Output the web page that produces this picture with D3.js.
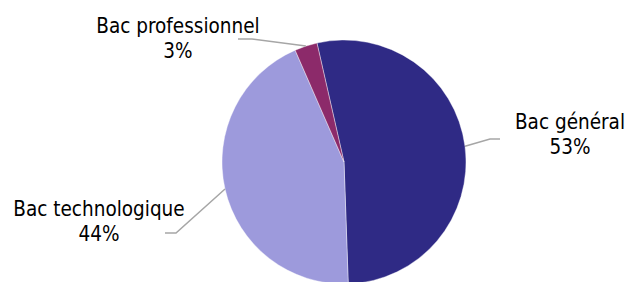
<!DOCTYPE html>
<html>
<head>
<meta charset="utf-8">
<script src="https://cdn.jsdelivr.net/npm/d3@7"></script>
<style>
  body { margin: 0; background: #fff; }
  text { font-family: "DejaVu Sans Condensed", "DejaVu Sans", sans-serif; font-size: 20.5px; fill: #000; }
</style>
</head>
<body>
<div id="chart"></div>
<script>
// data
var categories = ["Bac général", "Bac technologique", "Bac professionnel"];
var shares = [53, 44, 3];
var colors = ["#2F2A85", "#9D9ADC", "#8C2A6A"];

// label placement (text centre, elbow, line end)
var labelPos = [
    {x: 570, y: 129, elbow: [490, 139], end: [500, 139]},
    {x: 99,  y: 216, elbow: [176, 233], end: [165, 233]},
    {x: 178, y: 33,  elbow: [252, 39],  end: [238, 39]}
];

var width = 628, height = 282;
var cx = 344, cy = 162, radius = 122;
var start = -12.8 * Math.PI / 180;

var svg = d3.select("#chart").append("svg")
    .attr("width", width)
    .attr("height", height);

var g = svg.append("g")
    .attr("transform", "translate(" + cx + "," + cy + ")");

var pie = d3.pie()
    .sort(null)
    .startAngle(start)
    .endAngle(start + 2 * Math.PI);

var arc = d3.arc().innerRadius(0).outerRadius(radius);

var arcs = pie(shares);

g.selectAll("path.slice")
    .data(arcs)
    .enter().append("path")
    .attr("class", "slice")
    .attr("d", arc)
    .attr("fill", function(d, i) { return colors[i]; })
    .attr("stroke", "#ffffff")
    .attr("stroke-width", 0.4);

// leader lines
g.selectAll("polyline")
    .data(arcs)
    .enter().append("polyline")
    .attr("points", function(d, i) {
        var a = (d.startAngle + d.endAngle) / 2;
        var p0 = [radius * Math.sin(a), -radius * Math.cos(a)];
        var lp = labelPos[i];
        return [p0, [lp.elbow[0] - cx, lp.elbow[1] - cy], [lp.end[0] - cx, lp.end[1] - cy]]
            .map(function(p) { return p.join(","); }).join(" ");
    })
    .attr("fill", "none")
    .attr("stroke", "#A6A6A6")
    .attr("stroke-width", 1.5);

// labels
var labels = svg.selectAll("text.lbl")
    .data(arcs)
    .enter().append("text")
    .attr("class", "lbl")
    .attr("text-anchor", "middle")
    .attr("x", function(d, i) { return labelPos[i].x; })
    .attr("y", function(d, i) { return labelPos[i].y; });

labels.append("tspan")
    .attr("x", function(d, i) { return labelPos[i].x; })
    .text(function(d, i) { return categories[i]; });

labels.append("tspan")
    .attr("x", function(d, i) { return labelPos[i].x; })
    .attr("dy", 25)
    .text(function(d) { return d.data + "%"; });
</script>
</body>
</html>
